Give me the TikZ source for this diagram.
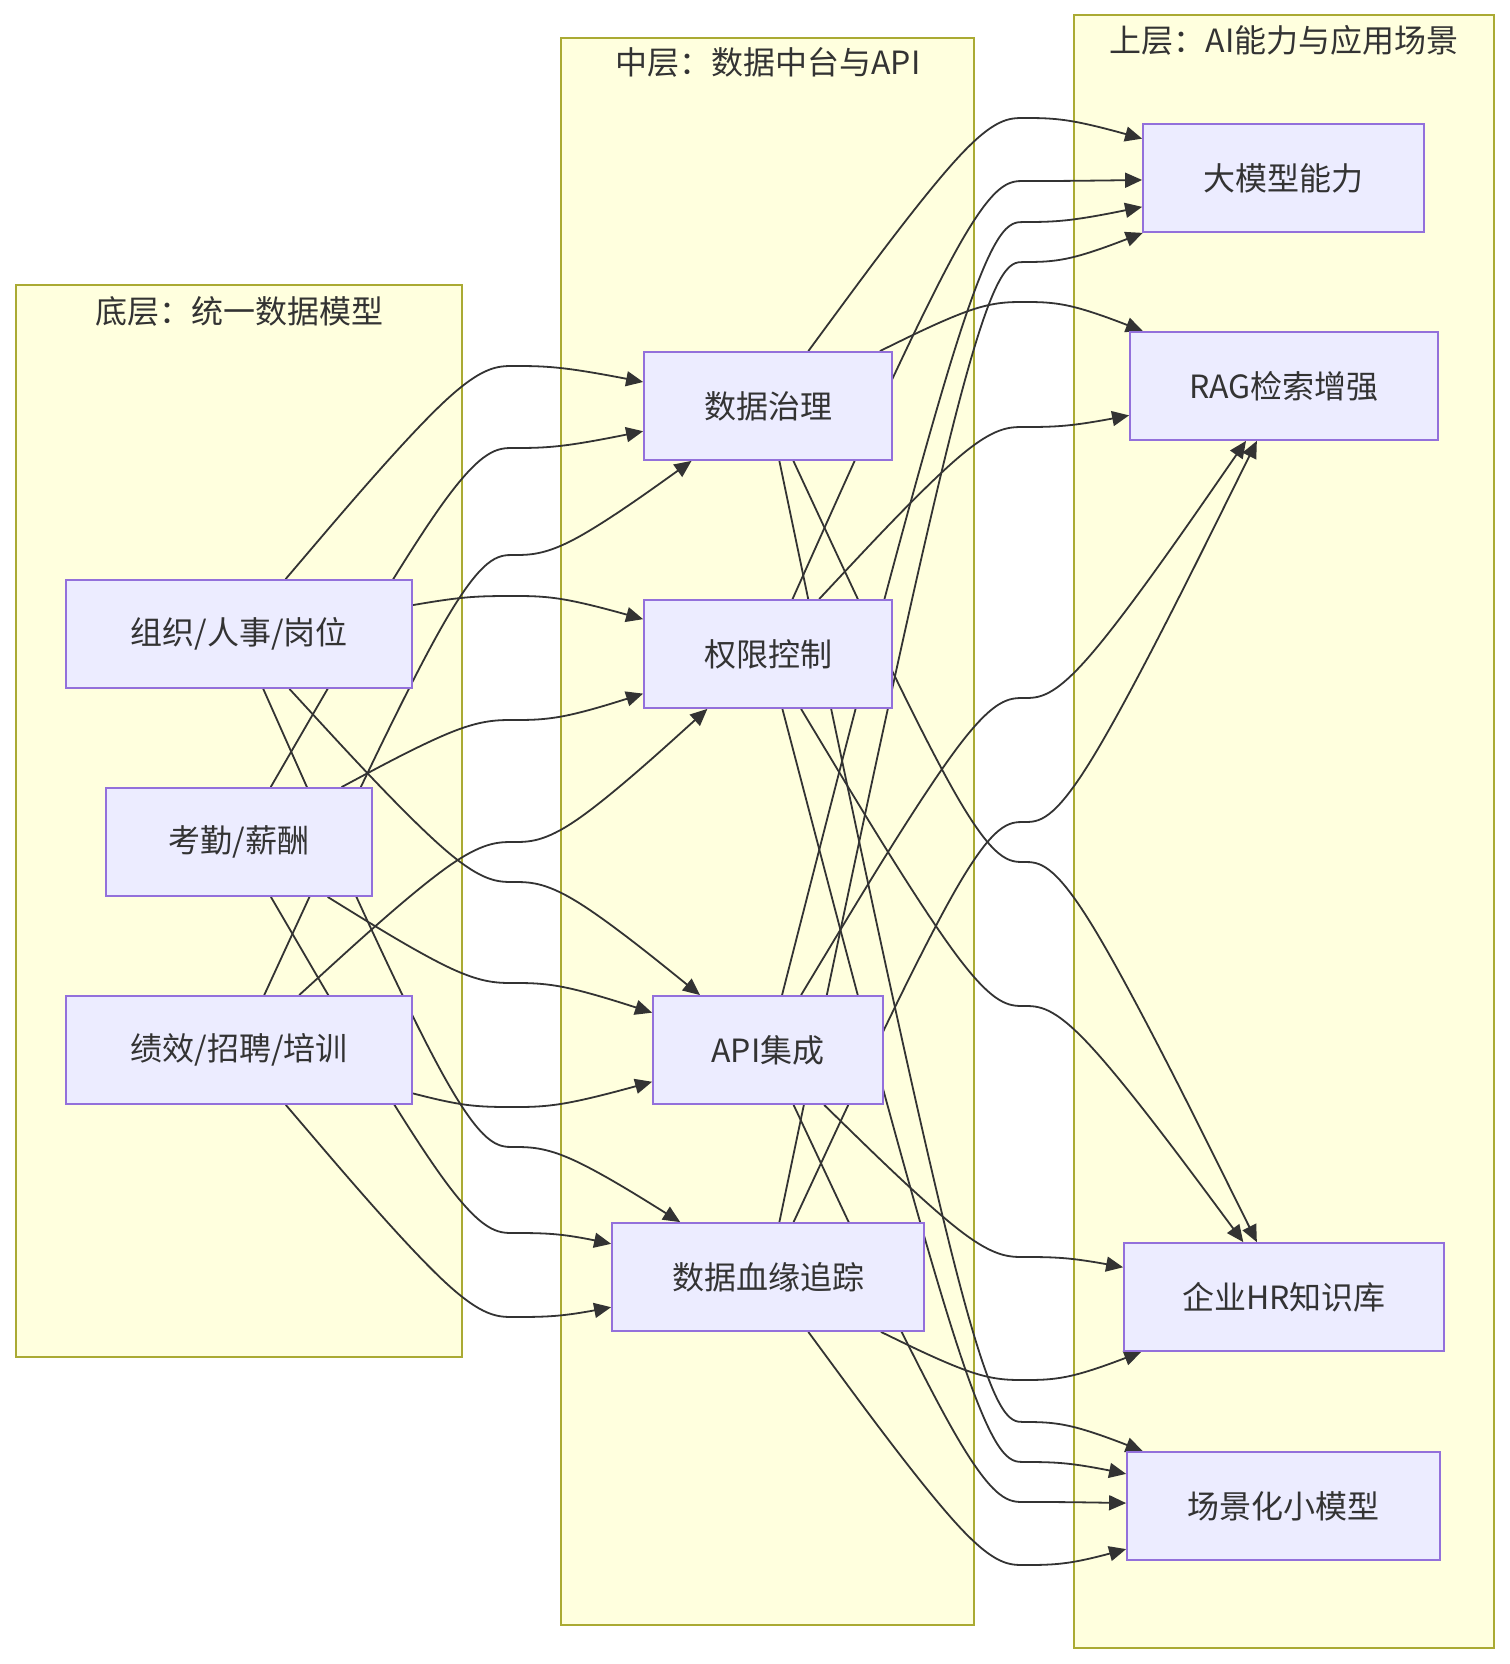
\documentclass[tikz,border=0pt]{standalone}
\usepackage{fontspec}
\setmainfont{Noto Sans CJK SC}
\usetikzlibrary{calc,arrows.meta}
\pgfdeclarelayer{bg}
\pgfdeclarelayer{edges}
\pgfsetlayers{bg,edges,main}
\definecolor{clfill}{HTML}{FFFFDE}
\definecolor{clline}{HTML}{AAAA33}
\definecolor{ndfill}{HTML}{ECECFF}
\definecolor{ndline}{HTML}{9370DB}
\definecolor{txt}{HTML}{333333}
\tikzset{
  box/.style={draw=ndline, fill=ndfill, line width=1.8pt, minimum height=108pt,
    inner sep=0pt, text=txt, font=\fontsize{32}{38}\selectfont},
  cluster/.style={draw=clline, fill=clfill, line width=1.8pt},
  ctitle/.style={text=txt, font=\fontsize{32}{38}\selectfont, inner sep=0pt},
  edge/.style={draw=txt, line width=1.8pt, -{Triangle[length=17pt,width=15pt]}},
}
% basis-spline connector: source, target, level in the gap, corner x in, corner x out
\newcommand\mmedge[5]{%
  \coordinate (k1) at (#4,#3);
  \coordinate (k2) at (#5,#3);
  \coordinate (gm) at ($(k1)!0.5!(k2)$);
  \path (k1) -- (#1) coordinate[pos=1] (p0);
  \path (k2) -- (#2) coordinate[pos=1] (p4);
  \coordinate (m02) at ($(p0)!0.5!(gm)$);
  \coordinate (q1) at ($(k1)!0.33333!(m02)$);
  \coordinate (m24) at ($(gm)!0.5!(p4)$);
  \coordinate (q3) at ($(k2)!0.33333!(m24)$);
  \draw[edge] (p0) -- ($(p0)!0.16667!(k1)$)
    .. controls ($(p0)!0.33333!(k1)$) and ($(p0)!0.66667!(k1)$) .. (q1)
    .. controls ($(k1)!0.33333!(gm)$) and ($(k1)!0.66667!(gm)$) .. (gm)
    .. controls ($(gm)!0.33333!(k2)$) and ($(gm)!0.66667!(k2)$) .. (q3)
    .. controls ($(k2)!0.33333!(p4)$) and ($(k2)!0.66667!(p4)$) .. ($(k2)!0.83333!(p4)$)
    -- (p4);
}
\newcommand\bmedge[3]{\mmedge{#1}{#2}{#3}{467}{560}}
\newcommand\mtedge[3]{\mmedge{#1}{#2}{#3}{980}{1068}}
\begin{document}
\begin{tikzpicture}[x=1pt,y=-1pt]
\useasboundingbox (0,0) rectangle (1509,1664);
\begin{pgfonlayer}{bg}
  \fill[white] (0,0) rectangle (1509,1664);
  \draw[cluster] (16,285) rectangle (462,1357);
  \draw[cluster] (561,38) rectangle (974,1625);
  \draw[cluster] (1074,15) rectangle (1494,1648);
\end{pgfonlayer}
\node[ctitle] (tb) at (239,311) {底层：统一数据模型};
\node[ctitle] (tm) at (768,62) {中层：数据中台与API};
\node[ctitle] (tt) at (1284,40) {上层：AI能力与应用场景};

\node[box, minimum width=346pt] (B1) at (239,634) {组织/人事/岗位};
\node[box, minimum width=266pt] (B2) at (239,842) {考勤/薪酬};
\node[box, minimum width=346pt] (B3) at (239,1050) {绩效/招聘/培训};

\node[box, minimum width=248pt] (M1) at (768,406) {数据治理};
\node[box, minimum width=248pt] (M2) at (768,654) {权限控制};
\node[box, minimum width=230pt] (M3) at (768,1050) {API集成};
\node[box, minimum width=312pt] (M4) at (768,1277) {数据血缘追踪};

\node[box, minimum width=281pt] (T1) at (1283.5,178) {大模型能力};
\node[box, minimum width=308pt] (T2) at (1284,386) {RAG检索增强};
\node[box, minimum width=320pt] (T3) at (1284,1297) {企业HR知识库};
\node[box, minimum width=313pt] (T4) at (1283.5,1506) {场景化小模型};

\begin{pgfonlayer}{edges}
  \bmedge{B1}{M1}{366}
  \bmedge{B2}{M1}{448}
  \bmedge{B3}{M1}{555}
  \bmedge{B1}{M2}{596}
  \bmedge{B2}{M2}{720}
  \bmedge{B3}{M2}{842}
  \bmedge{B1}{M3}{882}
  \bmedge{B2}{M3}{983}
  \bmedge{B3}{M3}{1107}
  \bmedge{B1}{M4}{1147}
  \bmedge{B2}{M4}{1233}
  \bmedge{B3}{M4}{1317}
  \mtedge{M1}{T1}{118}
  \mtedge{M2}{T1}{181}
  \mtedge{M3}{T1}{222}
  \mtedge{M4}{T1}{262}
  \mtedge{M1}{T2}{302}
  \mtedge{M2}{T2}{427}
  \mtedge{M3}{T2}{698}
  \mtedge{M4}{T2}{822}
  \mtedge{M1}{T3}{862}
  \mtedge{M2}{T3}{1006}
  \mtedge{M3}{T3}{1257}
  \mtedge{M4}{T3}{1380}
  \mtedge{M1}{T4}{1422}
  \mtedge{M2}{T4}{1462}
  \mtedge{M3}{T4}{1502}
  \mtedge{M4}{T4}{1565}
\end{pgfonlayer}
\end{tikzpicture}
\end{document}
